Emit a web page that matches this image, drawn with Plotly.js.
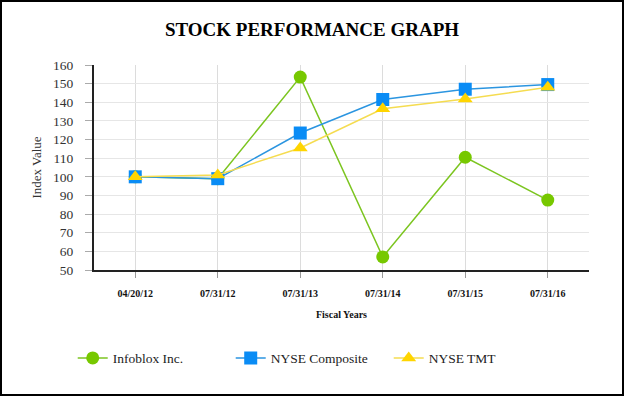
<!DOCTYPE html>
<html>
<head>
<meta charset="utf-8">
<script src="https://cdn.plot.ly/plotly-3.0.1.min.js"></script>
<style>
html,body{margin:0;padding:0;background:#fff;}
#chart{width:620px;height:392px;border:2px solid #000;}
</style>
</head>
<body>
<div id="chart"></div>
<script>
const categories = ["04/20/12","07/31/12","07/31/13","07/31/14","07/31/15","07/31/16"];
const infoblox = [100, 99, 153.5, 57, 110.5, 87.5];
const nyseComposite = [100, 99, 123.5, 141.5, 147, 149.5];
const nyseTMT = [100, 101, 115.5, 136.5, 141.7, 148];

const serif = "Liberation Serif, Times New Roman, serif";

const traces = [
  {x: categories, y: infoblox, name: "Infoblox Inc.", type: "scatter", mode: "lines+markers",
   line: {color: "#7cc520", width: 1.5}, marker: {symbol: "circle", size: 13, color: "#77c800"}},
  {x: categories, y: nyseComposite, name: "NYSE Composite", type: "scatter", mode: "lines+markers",
   line: {color: "#2b95e0", width: 1.5}, marker: {symbol: "square", size: 13, color: "#0a8cf5"}},
  {x: categories, y: nyseTMT, name: "NYSE TMT", type: "scatter", mode: "lines+markers",
   line: {color: "#f5dc50", width: 1.5}, marker: {symbol: "triangle-up", size: 13, color: "#ffd500"}}
];

const layout = {
  width: 620, height: 392,
  margin: {l: 92, r: 33, t: 63, b: 124},
  paper_bgcolor: "#fff", plot_bgcolor: "#fff",
  title: {text: "<b>STOCK PERFORMANCE GRAPH</b>", font: {family: serif, size: 19, color: "#000"},
          x: 0.5, xanchor: "center", y: 0.93, yanchor: "middle"},
  showlegend: true,
  legend: {orientation: "h", x: -0.043, xanchor: "left", y: -0.43, yanchor: "middle",
           entrywidth: 113, entrywidthmode: "pixels",
           font: {family: serif, size: 13.5, color: "#222"}, traceorder: "normal"},
  xaxis: {
    type: "category", range: [-0.5, 5.5],
    showgrid: true, gridcolor: "#dcdcdc", gridwidth: 1,
    showline: true, linecolor: "#222", linewidth: 2,
    ticks: "outside", tickcolor: "#999", ticklen: 6,
    tickfont: {family: serif, size: 10, color: "#111", weight: "bold"},
    ticklabelstandoff: 7,
    title: {text: "<b>Fiscal Years</b>", font: {family: serif, size: 10, color: "#111"}, standoff: 13},
    zeroline: false
  },
  yaxis: {
    range: [50, 160], dtick: 10, tick0: 50,
    showgrid: true, gridcolor: "#e6e6e6", gridwidth: 1,
    showline: true, linecolor: "#222", linewidth: 2,
    ticks: "outside", tickcolor: "#aaa", ticklen: 7,
    tickfont: {family: serif, size: 13.5, color: "#333"},
    ticklabelstandoff: 9,
    title: {text: "Index Value", font: {family: serif, size: 13, color: "#333"}, standoff: 8},
    zeroline: false
  }
};

Plotly.newPlot("chart", traces, layout, {displayModeBar: false, staticPlot: true});
</script>
</body>
</html>
